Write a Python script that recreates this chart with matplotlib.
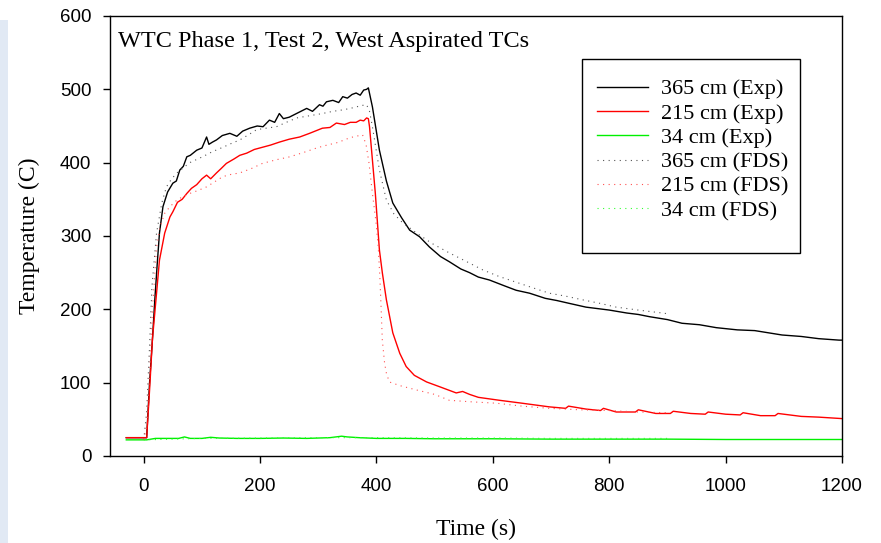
import matplotlib
matplotlib.use("Agg")
import matplotlib.pyplot as plt
from matplotlib.patches import Rectangle

# --- data ---
t_365_exp = [-30, 5, 10, 15, 19, 23, 27, 33, 41, 50, 56, 62, 68, 74, 80, 91, 100, 108, 112, 118,
             125, 135, 148, 160, 170, 182, 195, 205, 216, 225, 233, 240, 250, 260, 270, 280, 290,
             302, 308, 314, 325, 335, 342, 350, 358, 365, 372, 378, 383, 386, 393, 405, 417, 428,
             443, 457, 474, 491, 510, 525, 545, 560, 575, 594, 620, 640, 663, 690, 710, 732, 760,
             780, 800, 830, 850, 869, 900, 925, 955, 984, 1020, 1050, 1097, 1130, 1160, 1195, 1200]
y_365_exp = [25, 25, 100, 160, 213, 260, 304, 340, 360, 372, 375, 390, 395, 408, 410, 417, 420, 435,
             425, 428, 431, 437, 440, 436, 443, 447, 450, 449, 458, 455, 467, 460, 462, 466, 470,
             474, 470, 479, 477, 483, 485, 482, 490, 488, 493, 495, 492, 499, 500, 502, 476, 417,
             375, 345, 325, 308, 299, 285, 272, 265, 255, 250, 244, 240, 232, 226, 222, 215, 212,
             208, 203, 201, 199, 195, 193, 190, 186, 181, 179, 175, 172, 171, 165, 163, 160, 158, 158]

t_215_exp = [-30, 5, 10, 15, 22, 27, 36, 45, 50, 58, 66, 74, 82, 91, 100, 108, 115, 125, 133, 142,
             155, 165, 177, 190, 204, 218, 233, 250, 268, 285, 307, 320, 331, 345, 355, 365, 372,
             378, 383, 386, 388, 398, 405, 410, 417, 428, 440, 451, 465, 486, 510, 537, 548, 560,
             575, 611, 650, 697, 725, 730, 760, 785, 790, 812, 845, 850, 880, 905, 910, 940, 965,
             970, 1000, 1025, 1030, 1060, 1085, 1090, 1130, 1160, 1200]
y_215_exp = [25, 25, 90, 160, 222, 267, 304, 326, 333, 346, 350, 358, 365, 370, 378, 383, 378, 386,
             392, 399, 405, 410, 413, 418, 421, 424, 428, 432, 435, 440, 447, 448, 454, 452, 455,
             455, 458, 457, 461, 460, 449, 358, 281, 250, 213, 168, 140, 122, 110, 101, 94, 86, 88,
             84, 80, 76, 72, 67, 65, 68, 64, 62, 65, 60, 60, 63, 58, 58, 61, 58, 57, 60, 57, 56, 59,
             55, 55, 58, 54, 53, 51]

t_34_exp = [-30, 5, 20, 40, 60, 70, 80, 100, 115, 130, 160, 200, 240, 280, 320, 340, 350, 370, 400,
            450, 500, 600, 700, 800, 900, 1000, 1100, 1200]
y_34_exp = [22, 22, 24, 24, 24, 26, 24, 24, 25.5, 24.5, 24, 24, 24.5, 24, 25, 27, 26, 25, 24, 24,
            23.5, 23.5, 23, 23, 23, 22.5, 22.5, 22.5]

t_365_fds = [0, 5, 10, 14, 22, 31, 39, 48, 57, 68, 79, 90, 101, 118, 136, 150, 165, 180, 194, 210,
             228, 245, 263, 285, 307, 325, 342, 355, 365, 375, 383, 388, 393, 405, 417, 430, 445,
             469, 495, 525, 555, 582, 610, 640, 670, 697, 725, 754, 785, 812, 850, 891, 900]
y_365_fds = [22, 60, 150, 230, 304, 345, 367, 378, 386, 393, 400, 404, 408, 415, 421, 426, 431, 438,
             445, 447, 449, 455, 461, 464, 467, 470, 472, 474, 476, 478, 479, 470, 449, 390, 349,
             330, 318, 304, 290, 277, 265, 254, 245, 237, 229, 222, 218, 213, 208, 203, 199, 195, 194]

t_215_fds = [0, 5, 10, 15, 22, 29, 36, 45, 57, 68, 79, 93, 108, 122, 136, 150, 165, 185, 204, 228,
             251, 275, 297, 315, 331, 345, 354, 365, 376, 382, 387, 393, 399, 403, 406, 408, 410,
             414, 417, 422, 440, 469, 500, 525, 560, 606, 650, 697, 750, 800, 850, 900]
y_215_fds = [22, 40, 110, 200, 285, 315, 331, 340, 349, 354, 358, 362, 367, 374, 381, 384, 386, 392,
             399, 404, 408, 414, 420, 424, 427, 431, 434, 436, 438, 425, 400, 358, 320, 285, 240,
             200, 158, 126, 113, 101, 96, 90, 84, 76, 74, 72, 68, 65, 63, 62, 60, 59]

t_34_fds = [0, 100, 200, 300, 400, 500, 600, 700, 800, 900]
y_34_fds = [22, 24, 24.5, 25, 25, 24.5, 24.5, 24, 24, 24]

labels = ["365 cm (Exp)", "215 cm (Exp)", "34 cm (Exp)",
          "365 cm (FDS)", "215 cm (FDS)", "34 cm (FDS)"]

fig = plt.figure(figsize=(8.81, 5.43), dpi=100)
fig.patches.append(Rectangle((0, 0), 8 / 881, 1 - 20 / 543, transform=fig.transFigure,
                             facecolor="#e1e9f4", edgecolor="none"))
ax = fig.add_axes([110 / 881, 1 - 456 / 543, 732 / 881, 440 / 543])

dot = (0, (1, 4))
ax.plot(t_365_exp, y_365_exp, color="black", lw=1.0, label=labels[0])
ax.plot(t_215_exp, y_215_exp, color="red", lw=1.0, label=labels[1])
ax.plot(t_34_exp, y_34_exp, color="#00f000", lw=1.0, label=labels[2])
ax.plot(t_365_fds, y_365_fds, color="#555555", lw=0.8, ls=dot, label=labels[3])
ax.plot(t_215_fds, y_215_fds, color="#ff5050", lw=0.8, ls=dot, label=labels[4])
ax.plot(t_34_fds, y_34_fds, color="#30ff30", lw=0.8, ls=dot, label=labels[5])

ax.set_xlim(-58, 1200)
ax.set_ylim(0, 600)
ax.set_xticks([0, 200, 400, 600, 800, 1000, 1200])
ax.set_yticks([0, 100, 200, 300, 400, 500, 600])
ax.tick_params(direction="out", length=5, width=1, labelsize=13.5, top=False, right=False)
ax.tick_params(axis="x", pad=11)
ax.tick_params(axis="y", pad=8.5)
for lab in ax.get_xticklabels() + ax.get_yticklabels():
    lab.set_fontfamily("Liberation Sans")
for s in ax.spines.values():
    s.set_linewidth(1.0)

serif = "Liberation Serif"
ax.set_xlabel("Time (s)", fontfamily=serif, fontsize=17, labelpad=17)
ax.set_ylabel("Temperature (C)", fontfamily=serif, fontsize=17, labelpad=14)
ax.text(0.011, 0.943, "WTC Phase 1, Test 2, West Aspirated TCs", transform=ax.transAxes,
        fontfamily=serif, fontsize=17.5, va="center", ha="left")

# legend frame drawn by hand (more room below the last row, as in the original)
ax.add_patch(Rectangle((0.6448, 0.4614), 0.2978, 0.4409, transform=ax.transAxes,
                       facecolor="white", edgecolor="black", lw=1.0, zorder=4))
leg = ax.legend(loc="upper left", bbox_to_anchor=(0.6653, 0.857), prop={"family": serif, "size": 16},
                frameon=False, handlelength=2.3, labelspacing=0.17, borderpad=0,
                handletextpad=0.6, borderaxespad=0)
leg.set_zorder(5)

fig.savefig("out.png", dpi=100)
